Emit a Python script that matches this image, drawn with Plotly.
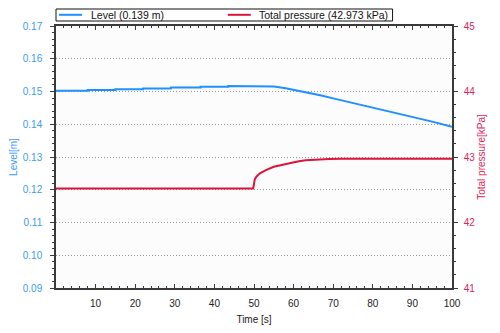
import plotly.graph_objects as go

# Tank level over time (step-like rise, then drain)
level_t = [0, 8, 8, 15, 15, 22, 22, 29, 29, 36.5, 36.5, 43.5, 43.5,
           52.5, 55, 58, 61, 64, 67, 70, 75, 80, 85, 90, 95, 100]
level_m = [0.1502, 0.1502, 0.15045, 0.15045, 0.1507, 0.1507, 0.15095, 0.15095,
           0.1512, 0.1512, 0.15145, 0.15145, 0.1517,
           0.1517, 0.1515, 0.1510, 0.1503, 0.1496, 0.1488, 0.1479, 0.1465,
           0.1451, 0.1437, 0.1423, 0.1408, 0.1392]

# Total pressure over time (step at t=50, settling toward final value)
press_t = [0, 49.8, 50.2, 50.6, 51.5, 53, 55, 57, 59, 61, 63, 66, 69, 72, 100]
press_kpa = [42.52, 42.52, 42.66, 42.70, 42.75, 42.80, 42.85, 42.88, 42.91,
             42.93, 42.95, 42.963, 42.970, 42.973, 42.973]

x_ticks = [10, 20, 30, 40, 50, 60, 70, 80, 90, 100]

BLUE = "#1E90FF"
RED = "#DC143C"
BLUE_TXT = "#3C9BF5"
RED_TXT = "#E0245A"
AXIS = "#3a3a3a"
FONT = "Liberation Sans, Arial, sans-serif"

W, H = 500, 333
L, R, T, B = 56, 47.5, 26, 45
PW, PH = W - L - R, H - T - B


def px_x(x):
    return (x - L) / PW


def px_y(y):
    return (H - B - y) / PH


fig = go.Figure()
fig.add_trace(go.Scatter(x=level_t, y=level_m, mode="lines",
                         line=dict(color=BLUE, width=2), name="Level",
                         xaxis="x", yaxis="y"))
fig.add_trace(go.Scatter(x=press_t, y=press_kpa, mode="lines",
                         line=dict(color=RED, width=2), name="Total pressure",
                         xaxis="x", yaxis="y2"))

common_tick = dict(tickcolor=AXIS, tickwidth=1, automargin=False)

fig.update_layout(
    width=W, height=H,
    margin=dict(l=L, r=R, t=T, b=B),
    paper_bgcolor="white",
    plot_bgcolor="#fcfcfc",
    showlegend=False,
    font=dict(family=FONT, size=10, color="#222"),
    xaxis=dict(
        range=[0, 100], tickmode="array", tickvals=x_ticks,
        ticks="inside", ticklen=4, mirror="ticks", showline=True,
        linecolor=AXIS, linewidth=1.5, showgrid=False, zeroline=False,
        minor=dict(tick0=0, dtick=2, ticks="inside", ticklen=2, tickcolor=AXIS),
        tickfont=dict(size=10, color="#222"), ticklabelstandoff=5,
        title=dict(text="Time [s]", font=dict(size=10, color="#222"), standoff=8),
        **common_tick,
    ),
    xaxis2=dict(
        range=[0, 100], overlaying="x", anchor="y", tickmode="array",
        tickvals=x_ticks, ticks="outside", ticklen=4, showticklabels=False,
        showline=False, showgrid=False, zeroline=False,
        minor=dict(tick0=0, dtick=2, ticks="outside", ticklen=2, tickcolor=AXIS),
        **common_tick,
    ),
    yaxis=dict(
        range=[0.09, 0.17], tick0=0.09, dtick=0.01, tickformat=".2f",
        ticks="outside", ticklen=4, showline=True, linecolor=AXIS,
        linewidth=1.5, zeroline=False,
        showgrid=True, gridcolor="#999999", gridwidth=1, griddash="1px,2px",
        minor=dict(tick0=0.09, dtick=0.002, ticks="outside", ticklen=2,
                   tickcolor=AXIS),
        tickfont=dict(size=10, color=BLUE_TXT), ticklabelstandoff=6,
        title=dict(text="Level[m]", font=dict(size=10, color=BLUE_TXT),
                   standoff=3),
        **common_tick,
    ),
    yaxis3=dict(
        range=[0.09, 0.17], overlaying="y", anchor="x", side="left",
        tick0=0.09, dtick=0.01, ticks="inside", ticklen=6,
        showticklabels=False, showline=False, showgrid=False, zeroline=False,
        minor=dict(tick0=0.09, dtick=0.002, ticks="inside", ticklen=3,
                   tickcolor=AXIS),
        **common_tick,
    ),
    yaxis2=dict(
        range=[41, 45], overlaying="y", anchor="x", side="right",
        tick0=41, dtick=1, ticks="outside", ticklen=4, showline=True,
        linecolor=AXIS, linewidth=1.5, showgrid=False, zeroline=False,
        minor=dict(tick0=41, dtick=0.2, ticks="outside", ticklen=2,
                   tickcolor=AXIS),
        tickfont=dict(size=10, color=RED_TXT), ticklabelstandoff=4,
        title=dict(text="Total pressure[kPa]", font=dict(size=10, color=RED_TXT),
                   standoff=4),
        **common_tick,
    ),
    yaxis4=dict(
        range=[41, 45], overlaying="y", anchor="x", side="right",
        tick0=41, dtick=1, ticks="inside", ticklen=4,
        showticklabels=False, showline=False, showgrid=False, zeroline=False,
        minor=dict(tick0=41, dtick=0.2, ticks="inside", ticklen=2,
                   tickcolor=AXIS),
        **common_tick,
    ),
)

# Legend box drawn above the plot area, listing each series' final value
box_x0, box_x1, box_y0, box_y1 = 56, 393, 9, 21
fig.add_shape(type="rect", xref="paper", yref="paper",
              x0=px_x(box_x0), x1=px_x(box_x1),
              y0=px_y(box_y1), y1=px_y(box_y0),
              line=dict(color="#111", width=1), fillcolor="white", layer="above")
mid = px_y(14.8)
fig.add_shape(type="line", xref="paper", yref="paper",
              x0=px_x(59), x1=px_x(82), y0=mid, y1=mid,
              line=dict(color=BLUE, width=2))
fig.add_shape(type="line", xref="paper", yref="paper",
              x0=px_x(228), x1=px_x(251), y0=mid, y1=mid,
              line=dict(color=RED, width=2))
fig.add_annotation(xref="paper", yref="paper", x=px_x(89), y=mid,
                   xanchor="left", yanchor="middle", showarrow=False,
                   text=f"Level ({level_m[-1]:.3f} m)",
                   font=dict(size=10.5, color="#111"))
fig.add_annotation(xref="paper", yref="paper", x=px_x(257), y=mid,
                   xanchor="left", yanchor="middle", showarrow=False,
                   text=f"Total pressure ({press_kpa[-1]:.3f} kPa)",
                   font=dict(size=10.5, color="#111"))

fig.write_html("out.html")
